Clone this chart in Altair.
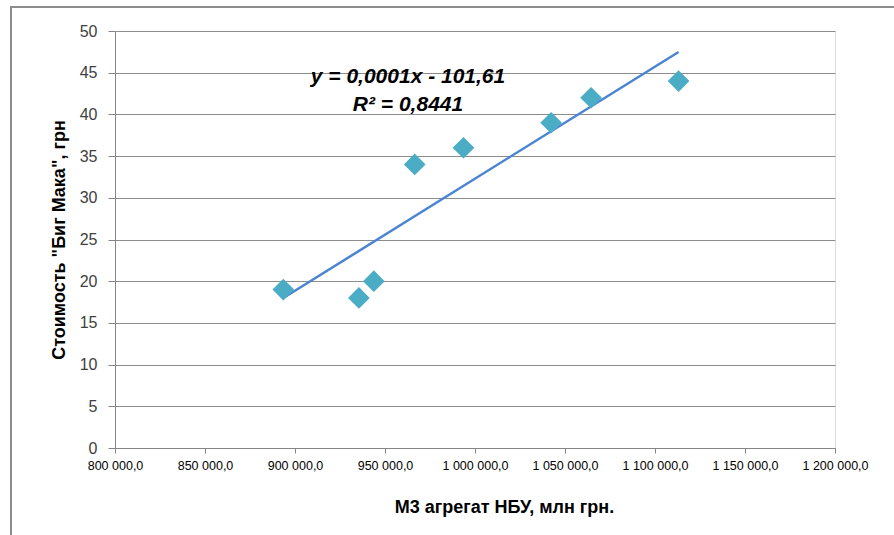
import altair as alt
import pandas as pd

# Data
money_supply = [893500, 935500, 943800, 966500, 993600, 1042300, 1064500, 1113100]
big_mac_price = [19, 18, 20, 34, 36, 39, 42, 44]
x_ticks = [800000, 850000, 900000, 950000, 1000000, 1050000, 1100000, 1150000, 1200000]
y_ticks = [0, 5, 10, 15, 20, 25, 30, 35, 40, 45, 50]
equation_line1 = "y = 0,0001x - 101,61"
equation_line2 = "R² = 0,8441"

df = pd.DataFrame({"x": money_supply, "y": big_mac_price})

W, H = 720, 417
FONT = "Liberation Sans"

x_enc = alt.X(
    "x:Q",
    scale=alt.Scale(domain=[800000, 1200000], nice=False, zero=False),
    axis=alt.Axis(
        values=x_ticks,
        format=",.1f",
        title="М3 агрегат НБУ, млн грн.",
        titleFontWeight="bold",
        titleFontSize=18,
        titleFont=FONT,
        titleColor="#000000",
        titlePadding=27,
        titleX=389,
        labelFont=FONT,
        labelFontSize=12.5,
        labelColor="#000000",
        labelPadding=6,
        labelOverlap=False,
        labelFlush=False,
        grid=False,
        domainColor="#868686",
        tickColor="#868686",
        tickSize=5,
    ),
)
y_enc = alt.Y(
    "y:Q",
    scale=alt.Scale(domain=[0, 50], nice=False),
    axis=alt.Axis(
        values=y_ticks,
        title='Стоимость "Биг Мака", грн',
        titleFontWeight="bold",
        titleFontSize=18,
        titleFont=FONT,
        titleColor="#000000",
        titlePadding=11,
        labelFont=FONT,
        labelFontSize=16,
        labelColor="#404040",
        labelPadding=11,
        grid=True,
        gridColor="#8c8c8c",
        gridWidth=1,
        domainColor="#868686",
        tickColor="#868686",
        tickSize=7,
    ),
)

base = alt.Chart(df)

points = base.mark_point(
    shape="diamond", filled=True, size=470, color="#4BACC6", opacity=1
).encode(x=x_enc, y=y_enc)

trend = base.transform_regression("x", "y", method="linear").mark_line(
    color="#4C84D4", strokeWidth=2.5
).encode(x=x_enc, y=y_enc)

text_style = dict(font=FONT, fontSize=21, fontWeight="bold", fontStyle="italic",
                  color="#000000", align="center", baseline="middle")
eq1 = alt.Chart(pd.DataFrame({"t": [equation_line1]})).mark_text(**text_style).encode(
    text="t:N", x=alt.value(293), y=alt.value(46)
)
eq2 = alt.Chart(pd.DataFrame({"t": [equation_line2]})).mark_text(**text_style).encode(
    text="t:N", x=alt.value(293), y=alt.value(74)
)

border = alt.Chart(pd.DataFrame({"a": [0]})).mark_rect(
    fill=None, stroke="#8c8c8c", strokeWidth=2
).encode(
    x=alt.value(-104), x2=alt.value(800), y=alt.value(-24), y2=alt.value(600)
)

chart = alt.layer(border, trend, points, eq1, eq2).properties(
    width=W, height=H,
    padding={"left": 115, "top": 31, "right": 59, "bottom": 87},
    autosize=alt.AutoSizeParams(type="none"),
    background="white",
).configure_view(stroke=None).configure(
    locale={"number": {"decimal": ",", "thousands": " ", "grouping": [3], "currency": ["", ""]}}
)

chart.save("out.html", embed_options={"renderer": "svg", "actions": False})
